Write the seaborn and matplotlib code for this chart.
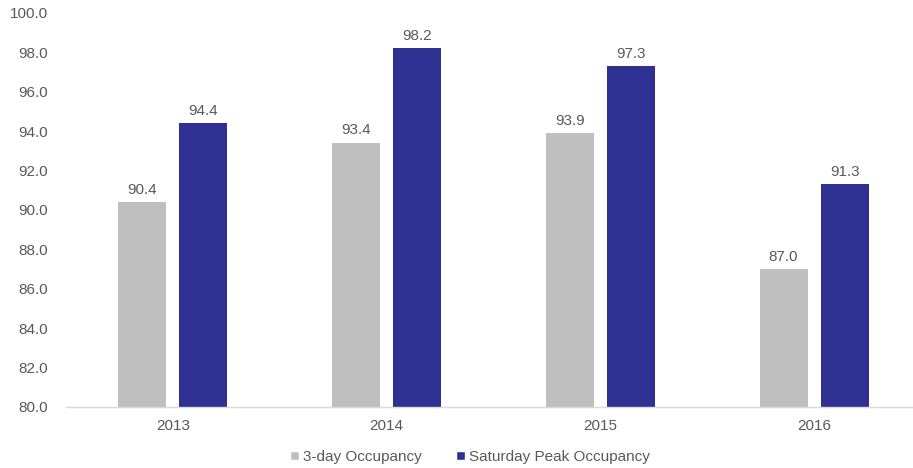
import matplotlib
matplotlib.use("Agg")
import matplotlib.pyplot as plt
import seaborn as sns
import pandas as pd
from matplotlib.patches import Patch

years = ["2013", "2014", "2015", "2016"]
three_day = [90.4, 93.4, 93.9, 87.0]
saturday_peak = [94.4, 98.2, 97.3, 91.3]
series_names = ["3-day Occupancy", "Saturday Peak Occupancy"]
colors = ["#BFBFBF", "#2E3092"]

df = pd.DataFrame({
    "Year": years * 2,
    "Value": three_day + saturday_peak,
    "Series": [series_names[0]] * 4 + [series_names[1]] * 4,
})

sns.set_theme(style="white")
plt.rcParams["font.family"] = ["Liberation Sans", "DejaVu Sans"]
text_color = "#595959"

W, H = 913, 468
fig = plt.figure(figsize=(W / 100, H / 100), dpi=100)
left, right, top, bottom = 66, 921, 13, 407
ax = fig.add_axes([left / W, (H - bottom) / H, (right - left) / W, (bottom - top) / H])

sns.barplot(data=df, x="Year", y="Value", hue="Series", palette=colors,
            width=0.571, gap=0.213, ax=ax, legend=False, saturation=1,
            edgecolor="none")

for c in ax.containers:
    ax.bar_label(c, fmt="%.1f", padding=4, fontsize=11, color=text_color)

ax.set_xlim(-0.5, 3.5)
ax.set_ylim(80, 100)
ax.set_yticks([80 + 2 * i for i in range(11)])
ax.set_yticklabels([f"{80 + 2 * i:.1f}" for i in range(11)])
ax.set_xlabel("")
ax.set_ylabel("")
ax.tick_params(axis="both", length=0, labelsize=11, labelcolor=text_color)
ax.tick_params(axis="y", pad=13)
ax.tick_params(axis="x", pad=9)
for s in ["left", "right", "top"]:
    ax.spines[s].set_visible(False)
ax.spines["bottom"].set_color("#D9D9D9")
ax.spines["bottom"].set_linewidth(1.0)

handles = [Patch(facecolor=colors[0]), Patch(facecolor=colors[1])]
fig.legend(handles, series_names, loc="center", bbox_to_anchor=(470 / W, (H - 457) / H),
           ncol=2, frameon=False, fontsize=11, labelcolor=text_color,
           handlelength=0.6, handleheight=0.6, handletextpad=0.3, columnspacing=2.2)

fig.savefig("out.png", dpi=100)
